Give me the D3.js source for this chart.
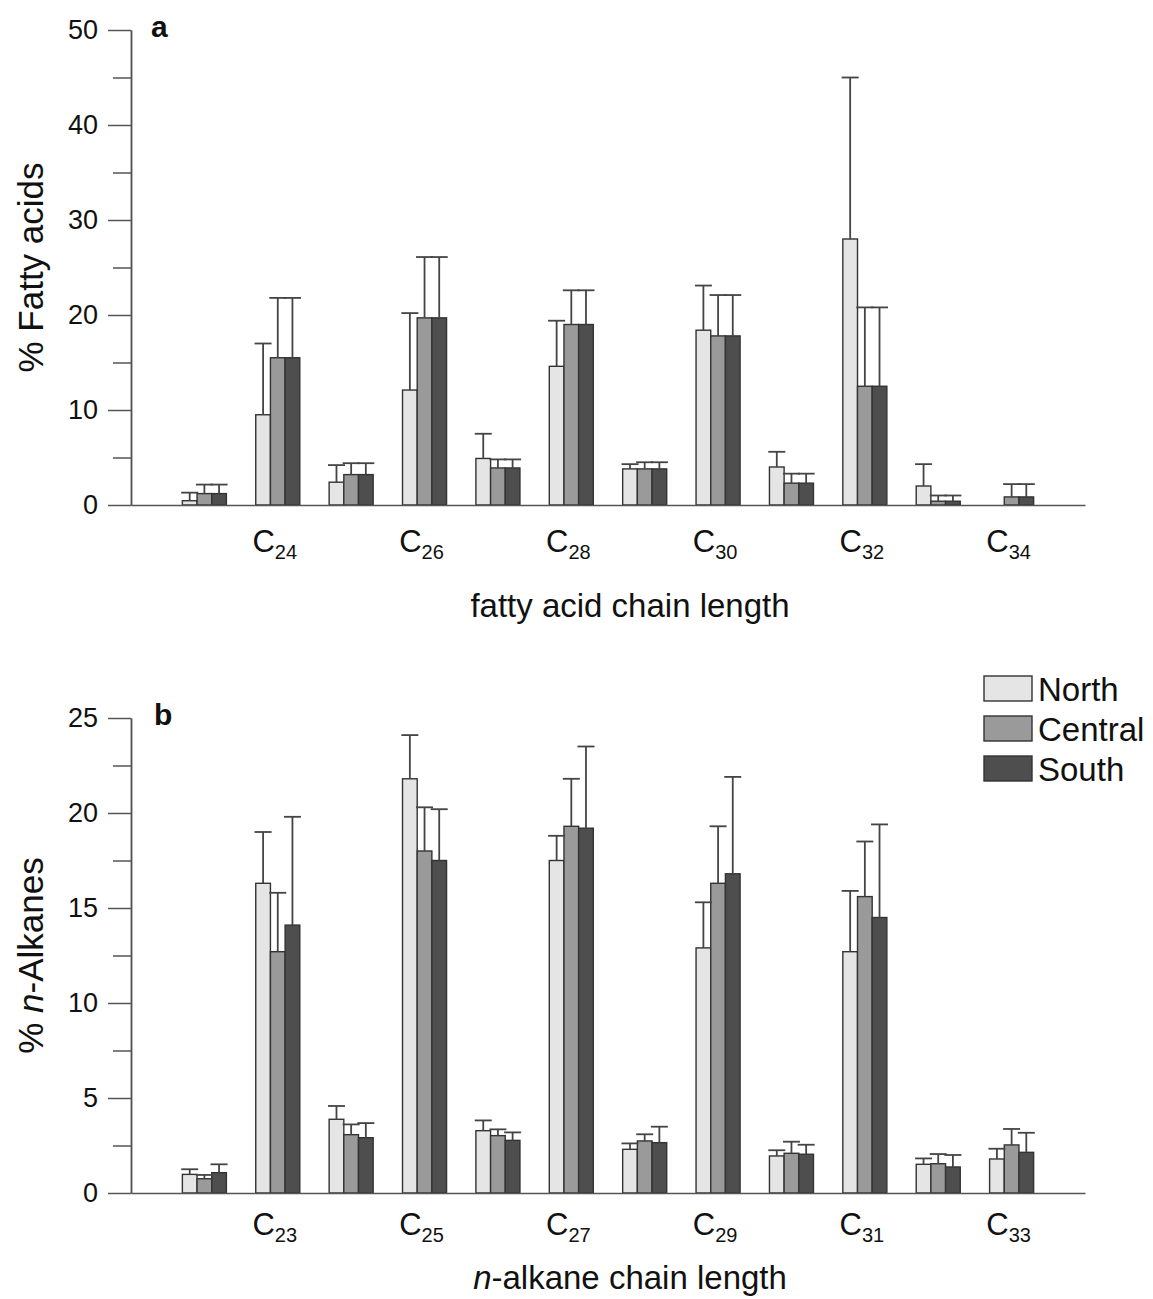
<!DOCTYPE html>
<html>
<head>
<meta charset="utf-8">
<script src="https://cdn.jsdelivr.net/npm/d3@7"></script>
<style>
  body { margin: 0; background: #fff; }
  svg { display: block; font-family: "Liberation Sans", Arial, sans-serif; }
  .axis path, .axis line { stroke: #555; stroke-width: 1.5; }
</style>
</head>
<body>
<figure id="chart" style="margin:0"></figure>
<script>
// chain lengths (x categories)
var faChains = [23, 24, 25, 26, 27, 28, 29, 30, 31, 32, 33, 34];
var faTickChains = [24, 26, 28, 30, 32, 34];
var alkChains = [22, 23, 24, 25, 26, 27, 28, 29, 30, 31, 32, 33];
var alkTickChains = [23, 25, 27, 29, 31, 33];

var regions = ["North", "Central", "South"];

// panel a: % fatty acids (mean and sd)
var faNorth = [0.45, 9.5, 2.4, 12.1, 4.9, 14.6, 3.8, 18.4, 4.0, 28.0, 2.0, 0];
var faNorthSd = [0.85, 7.5, 1.8, 8.1, 2.6, 4.8, 0.5, 4.7, 1.6, 17.0, 2.3, 0];
var faCentral = [1.2, 15.5, 3.2, 19.7, 3.9, 19.0, 3.8, 17.8, 2.3, 12.5, 0.4, 0.85];
var faCentralSd = [0.95, 6.3, 1.2, 6.4, 0.9, 3.6, 0.7, 4.3, 1.0, 8.3, 0.6, 1.35];
var faSouth = [1.2, 15.5, 3.2, 19.7, 3.9, 19.0, 3.8, 17.8, 2.3, 12.5, 0.4, 0.85];
var faSouthSd = [0.95, 6.3, 1.2, 6.4, 0.9, 3.6, 0.7, 4.3, 1.0, 8.3, 0.6, 1.35];

// panel b: % n-alkanes (mean and sd)
var alkNorth = [0.98, 16.3, 3.88, 21.8, 3.28, 17.5, 2.3, 12.9, 1.95, 12.7, 1.51, 1.79];
var alkNorthSd = [0.27, 2.7, 0.7, 2.3, 0.54, 1.3, 0.31, 2.4, 0.3, 3.2, 0.31, 0.54];
var alkCentral = [0.75, 12.7, 3.07, 18.0, 3.02, 19.3, 2.74, 16.3, 2.09, 15.6, 1.54, 2.53];
var alkCentralSd = [0.2, 3.1, 0.54, 2.3, 0.33, 2.5, 0.35, 3.0, 0.61, 2.9, 0.51, 0.84];
var alkSouth = [1.07, 14.1, 2.91, 17.5, 2.77, 19.2, 2.65, 16.8, 2.04, 14.5, 1.37, 2.14];
var alkSouthSd = [0.44, 5.7, 0.77, 2.7, 0.42, 4.3, 0.84, 5.1, 0.5, 4.9, 0.63, 1.03];

var faMajorTicks = [0, 10, 20, 30, 40, 50];
var faMinorTicks = [5, 15, 25, 35, 45];
var alkMajorTicks = [0, 5, 10, 15, 20, 25];
var alkMinorTicks = [2.5, 7.5, 12.5, 17.5, 22.5];

var fills = {North: "#e5e5e5", Central: "#9a9a9a", South: "#4e4e4e"};

var width = 1153, height = 1299;

var svg = d3.select("figure#chart")
    .append("svg")
    .attr("width", width)
    .attr("height", height);

svg.append("rect").attr("width", width).attr("height", height).attr("fill", "#fff");

function buildRows(chains, n, ns, c, cs, s, ss) {
    return chains.map(function(ch, i) {
        return {
            chain: ch,
            vals: [
                {region: "North", v: n[i], sd: ns[i]},
                {region: "Central", v: c[i], sd: cs[i]},
                {region: "South", v: s[i], sd: ss[i]}
            ]
        };
    });
}

function drawPanel(opt) {
    var g = svg.append("g");

    var x = d3.scaleBand()
        .domain(opt.chains)
        .range([131, 1085])
        .paddingInner(0.4)
        .paddingOuter(0.7);

    var xInner = d3.scaleBand()
        .domain(regions)
        .range([0, x.bandwidth()]);

    var y = d3.scaleLinear()
        .domain([0, opt.yMax])
        .range([opt.yBottom, opt.yTop]);

    // bars
    var groups = g.selectAll("g.grp")
        .data(opt.rows)
        .enter()
        .append("g")
        .attr("class", "grp")
        .attr("transform", d => `translate(${x(d.chain)},0)`);

    groups.selectAll("rect")
        .data(d => d.vals.filter(v => v.v > 0))
        .enter()
        .append("rect")
        .attr("x", d => xInner(d.region))
        .attr("y", d => y(d.v))
        .attr("width", xInner.bandwidth())
        .attr("height", d => y(0) - y(d.v))
        .attr("fill", d => fills[d.region])
        .attr("stroke", "#333")
        .attr("stroke-width", 1.4);

    // error bars (upper only)
    var err = groups.selectAll("g.err")
        .data(d => d.vals.filter(v => v.v > 0))
        .enter()
        .append("g")
        .attr("class", "err")
        .attr("stroke", "#444")
        .attr("stroke-width", 1.8);

    err.append("line")
        .attr("x1", d => xInner(d.region) + xInner.bandwidth() / 2)
        .attr("x2", d => xInner(d.region) + xInner.bandwidth() / 2)
        .attr("y1", d => y(d.v))
        .attr("y2", d => y(d.v + d.sd));

    err.append("line")
        .attr("x1", d => xInner(d.region) + xInner.bandwidth() / 2 - 8.5)
        .attr("x2", d => xInner(d.region) + xInner.bandwidth() / 2 + 8.5)
        .attr("y1", d => y(d.v + d.sd))
        .attr("y2", d => y(d.v + d.sd));

    // axes
    g.append("g")
        .attr("class", "x axis")
        .attr("transform", `translate(0,${opt.yBottom})`)
        .call(d3.axisBottom(x).tickValues([]).tickSizeOuter(0));

    g.append("g")
        .attr("class", "y axis")
        .attr("transform", "translate(131,0)")
        .call(d3.axisLeft(y).tickValues(opt.minorTicks).tickSize(18).tickSizeOuter(0).tickFormat(""));

    var yAxis = g.append("g")
        .attr("class", "y axis")
        .attr("transform", "translate(131,0)")
        .call(d3.axisLeft(y).tickValues(opt.majorTicks).tickSize(23).tickSizeOuter(0).tickPadding(10));

    yAxis.selectAll("text")
        .attr("font-size", 27)
        .attr("fill", "#111")
        .attr("font-family", "Liberation Sans, Arial, sans-serif");

    // x tick labels as C with subscript
    var lab = g.selectAll("text.xlab")
        .data(opt.tickChains)
        .enter()
        .append("text")
        .attr("class", "xlab")
        .attr("x", d => x(d) + x.bandwidth() / 2 - 3)
        .attr("y", opt.yBottom + opt.labelGap)
        .attr("text-anchor", "middle")
        .attr("fill", "#111");
    lab.append("tspan").attr("font-size", 31).text("C");
    lab.append("tspan").attr("font-size", 20).attr("dy", 7).text(d => d);

    // axis titles
    var xt = g.append("text")
        .attr("x", 630)
        .attr("y", opt.xTitleY)
        .attr("text-anchor", "middle")
        .attr("font-size", 33)
        .attr("fill", "#111");
    opt.xTitle(xt);

    var yt = g.append("text")
        .attr("transform", `translate(43,${(opt.yTop + opt.yBottom) / 2}) rotate(-90)`)
        .attr("text-anchor", "middle")
        .attr("font-size", 35)
        .attr("fill", "#111");
    opt.yTitle(yt);

    g.append("text")
        .attr("x", opt.letterX)
        .attr("y", opt.yTop + 7)
        .attr("font-size", 30)
        .attr("font-weight", "bold")
        .attr("fill", "#111")
        .text(opt.letter);

    return g;
}

drawPanel({
    chains: faChains,
    tickChains: faTickChains,
    rows: buildRows(faChains, faNorth, faNorthSd, faCentral, faCentralSd, faSouth, faSouthSd),
    yMax: 50,
    yTop: 30,
    yBottom: 505,
    majorTicks: faMajorTicks,
    minorTicks: faMinorTicks,
    labelGap: 47,
    xTitleY: 617,
    letter: "a",
    letterX: 151,
    xTitle: function(t) { t.text("fatty acid chain length"); },
    yTitle: function(t) { t.text("% Fatty acids"); }
});

drawPanel({
    chains: alkChains,
    tickChains: alkTickChains,
    rows: buildRows(alkChains, alkNorth, alkNorthSd, alkCentral, alkCentralSd, alkSouth, alkSouthSd),
    yMax: 25,
    yTop: 718,
    yBottom: 1193,
    majorTicks: alkMajorTicks,
    minorTicks: alkMinorTicks,
    labelGap: 42,
    xTitleY: 1289,
    letter: "b",
    letterX: 154,
    xTitle: function(t) {
        t.append("tspan").attr("font-style", "italic").text("n");
        t.append("tspan").text("-alkane chain length");
    },
    yTitle: function(t) {
        t.append("tspan").text("% ");
        t.append("tspan").attr("font-style", "italic").text("n");
        t.append("tspan").text("-Alkanes");
    }
});

// legend
var legend = svg.append("g")
    .attr("transform", "translate(984,676)");

var items = legend.selectAll("g")
    .data(regions)
    .enter()
    .append("g")
    .attr("transform", (d, i) => `translate(0,${i * 40})`);

items.append("rect")
    .attr("width", 48)
    .attr("height", 25)
    .attr("fill", d => fills[d])
    .attr("stroke", "#333")
    .attr("stroke-width", 1.4);

items.append("text")
    .attr("x", 54)
    .attr("y", 25)
    .attr("font-size", 33)
    .attr("fill", "#111")
    .text(d => d);
</script>
</body>
</html>
